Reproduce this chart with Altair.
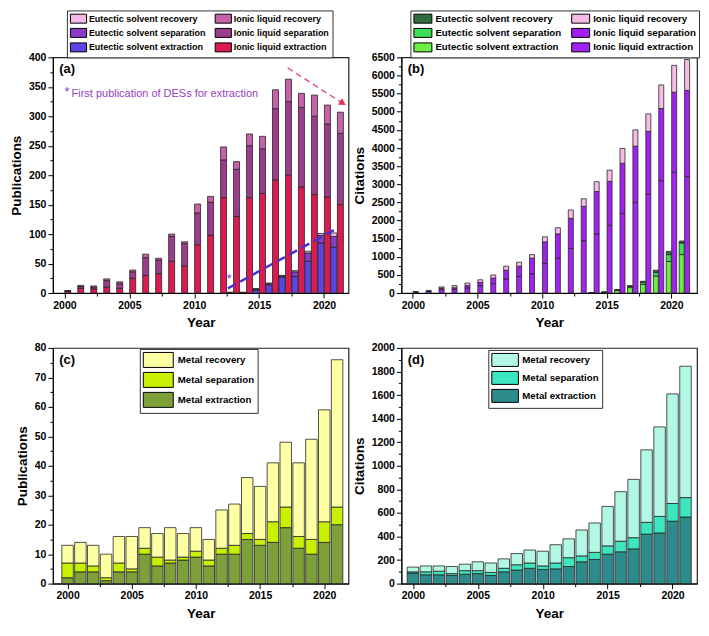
import altair as alt
import pandas as pd

FONT = "Liberation Sans"

years = list(range(2000, 2022))

# ---------------- (a) publications: ionic liquid / eutectic solvent ----------------
a_il_ext = [3, 8, 7, 10, 8, 25, 30, 33, 54, 46, 82, 98, 162, 130, 162, 169, 192, 200, 180, 167, 163, 150]
a_il_sep = [1, 3, 3, 11, 8, 11, 30, 23, 42, 38, 54, 56, 64, 80, 88, 76, 121, 125, 135, 133, 124, 121]
a_il_rec = [0, 2, 2, 3, 3, 3, 6, 3, 4, 3, 15, 10, 22, 13, 20, 21, 32, 38, 24, 36, 32, 36]
a_des_years = list(range(2013, 2022))
a_des_ext = [1, 1, 5, 14, 27, 28, 54, 85, 78]
a_des_sep = [0, 0, 2, 2, 2, 8, 14, 13, 18]
a_des_rec = [0, 0, 0, 1, 1, 2, 3, 3, 6]

# ---------------- (b) citations: ionic liquid / eutectic solvent ----------------
b_il_ext = [20, 40, 95, 100, 140, 200, 260, 385, 455, 530, 815, 960, 1230, 1445, 1630, 1870, 2190, 2500, 2720, 3100, 3330, 3210]
b_il_sep = [10, 15, 40, 45, 65, 90, 150, 245, 285, 430, 595, 670, 830, 945, 1170, 1210, 1390, 1550, 1740, 1990, 2210, 2380]
b_il_rec = [10, 17, 33, 60, 70, 75, 88, 110, 110, 100, 140, 170, 230, 210, 270, 310, 410, 450, 480, 650, 740, 850]
b_des_years = list(range(2014, 2022))
b_des_ext = [5, 20, 70, 150, 240, 470, 870, 1060]
b_des_sep = [3, 5, 15, 35, 55, 100, 190, 320]
b_des_rec = [2, 5, 10, 20, 30, 60, 90, 55]

# ---------------- (c) metal publications ----------------
c_ext = [2, 4, 4, 1, 4, 4, 10, 6, 7, 8, 9, 6, 10, 10, 15, 13, 14, 19, 12, 10, 14, 20]
c_sep = [5, 3, 2, 1, 3, 1, 2, 3, 1, 1, 2, 2, 2, 3, 2, 2, 7, 7, 4, 5, 7, 6]
c_rec = [6, 7, 7, 8, 9, 11, 7, 8, 11, 8, 8, 7, 13, 14, 19, 18, 20, 22, 25, 34, 38, 50]

# ---------------- (d) metal citations ----------------
d_ext = [90, 75, 75, 70, 80, 85, 70, 100, 115, 130, 120, 125, 145, 185, 205, 250, 270, 295, 420, 430, 530, 565]
d_sep = [10, 25, 30, 15, 30, 25, 25, 30, 45, 45, 30, 50, 75, 50, 60, 70, 90, 95, 100, 140, 150, 165]
d_rec = [40, 50, 45, 60, 55, 75, 80, 80, 95, 110, 125, 155, 160, 220, 250, 335, 420, 495, 615, 760, 930, 1115]

# series names
ES_REC, ES_SEP, ES_EXT = "Eutectic solvent recovery", "Eutectic solvent separation", "Eutectic solvent extraction"
IL_REC, IL_SEP, IL_EXT = "Ionic liquid recovery", "Ionic liquid separation", "Ionic liquid extraction"
M_REC, M_SEP, M_EXT = "Metal recovery", "Metal separation", "Metal extraction"

# annotations
a_tag_x = [1999.6]; a_tag_y = [380]
a_star_x = [2000.0]; a_star_y = [342]
a_note_x = [2000.55]; a_note_y = [337]; a_note = ["First publication of DESs for extraction"]
a_star2_x = [2012.7]; a_star2_y = [24]
a_trend_x = [2012.6, 2021.1]; a_trend_y = [8, 111]
a_arrow_x = [2017.2, 2021.45]; a_arrow_y = [382, 322]
b_tag_x = [1999.6]; b_tag_y = [6180]
c_tag_x = [1999.35]; c_tag_y = [76]
d_tag_x = [1999.6]; d_tag_y = [1895]

W, H = 296, 236


def build_df(specs):
    rows = []
    for name, grp, order, yrs, vals in specs:
        for yr, v in zip(yrs, vals):
            rows.append({"year": yr, "series": name, "grp": grp, "order": order, "value": v})
    return pd.DataFrame(rows)


def x_axis():
    return alt.Axis(
        values=[2000 + 2.5 * i for i in range(9)],
        labelExpr="datum.value % 5 == 0 ? format(datum.value, 'd') : ''",
        tickSize={"condition": {"test": "datum.value % 5 != 0", "value": 3}, "value": 5},
        title="Year", labelOverlap=False, labelFlush=False, labelPadding=2, titlePadding=5,
    )


def y_axis(maxv, minor, major, title):
    n = int(round(maxv / minor))
    return alt.Axis(
        values=[minor * i for i in range(n + 1)],
        labelExpr=f"datum.value % {major} == 0 ? format(datum.value, 'd') : ''",
        tickSize={"condition": {"test": f"datum.value % {major} != 0", "value": 3}, "value": 5},
        title=title, labelOverlap=False, labelFlush=False, labelPadding=2, titlePadding=5,
    )


def legend(x, y, path, size, label_offset, font_size, row_pad, col_pad=10, pad=4, cols=None):
    kw = dict(orient="none", legendX=x, legendY=y, title=None, symbolType=path, symbolSize=size,
              symbolStrokeColor="black", symbolStrokeWidth=1, labelFont=FONT, labelFontWeight="bold",
              labelFontSize=font_size, labelColor="black", labelOffset=label_offset, rowPadding=row_pad,
              columnPadding=col_pad, padding=pad, strokeColor="#333", fillColor="white", labelLimit=300)
    if cols:
        kw["columns"] = cols
    return alt.Legend(**kw)


class Panel:
    def __init__(self, xdom, ymax, yminor, ymajor, ytitle):
        self.xs = alt.Scale(domain=xdom, nice=False, zero=False)
        self.ys = alt.Scale(domain=[0, ymax], nice=False, zero=True)
        self.xa = x_axis()
        self.ya = y_axis(ymax, yminor, ymajor, ytitle)

    def X(self):
        return alt.X("xpos:Q", scale=self.xs, axis=self.xa)

    def Y(self, stack=None):
        if stack:
            return alt.Y("value:Q", scale=self.ys, axis=self.ya, stack=stack)
        return alt.Y("value:Q", scale=self.ys, axis=self.ya)

    def text(self, xs, ys, texts, **mk):
        df = pd.DataFrame({"xpos": xs, "value": ys, "text": texts})
        return alt.Chart(df).mark_text(**mk).encode(x=self.X(), y=self.Y(), text="text:N")

    def line(self, xs, ys, **mk):
        df = pd.DataFrame({"xpos": xs, "value": ys})
        return alt.Chart(df).mark_line(**mk).encode(x=self.X(), y=self.Y())

    def point(self, xs, ys, **mk):
        df = pd.DataFrame({"xpos": xs, "value": ys})
        return alt.Chart(df).mark_point(**mk).encode(x=self.X(), y=self.Y())

    def bars(self, df, domain, colors, offset_expr, bar_size, leg):
        return alt.Chart(df).transform_calculate(xpos=offset_expr).mark_bar(
            size=bar_size, stroke="#262626", strokeWidth=0.8).encode(
            x=self.X(), y=self.Y(stack="zero"),
            fill=alt.Fill("series:N", scale=alt.Scale(domain=domain, range=colors), legend=leg),
            order=alt.Order("order:Q", sort="ascending"),
        )


TAG = dict(align="left", baseline="middle", font=FONT, fontWeight="bold", fontSize=13, color="black")

# ----- panel a -----
df_a = build_df([
    (IL_EXT, "I", 1, years, a_il_ext), (IL_SEP, "I", 2, years, a_il_sep), (IL_REC, "I", 3, years, a_il_rec),
    (ES_EXT, "E", 1, a_des_years, a_des_ext), (ES_SEP, "E", 2, a_des_years, a_des_sep),
    (ES_REC, "E", 3, a_des_years, a_des_rec),
])
dom_a = [ES_REC, ES_SEP, ES_EXT, IL_REC, IL_SEP, IL_EXT]
col_a = ["#F4B9EA", "#8A3CC9", "#5B45E6", "#C862A8", "#9C3C8C", "#DC1A50"]
P = Panel([1999.5, 2021.5], 400, 25, 50, "Publications")
leg_a = legend(14, -47, "M-1,-1H2.6V1H-1Z", 81, 9, 9, 0.5, col_pad=6, pad=3, cols=2)
pa = alt.layer(
    P.bars(df_a, dom_a, col_a, "datum.year + (datum.grp == 'E' ? -0.25 : 0.26)", 6, leg_a),
    P.line(a_trend_x, a_trend_y, color="#4B2FD0", strokeWidth=2.5, strokeDash=[9, 5]),
    P.line(a_arrow_x, a_arrow_y, color="#E0559A", strokeWidth=1.5, strokeDash=[6, 4]),
    P.point(a_arrow_x[-1:], a_arrow_y[-1:], shape="triangle-right", angle=32, filled=True, size=60,
            color="#E8324F", opacity=1),
    P.text(a_tag_x, a_tag_y, ["(a)"], **TAG),
    P.text(a_star_x, a_star_y, ["*"], align="left", baseline="middle", font=FONT, fontSize=13, color="#7040E0"),
    P.text(a_note_x, a_note_y, a_note, align="left", baseline="middle", font=FONT, fontSize=11, color="#9440C4"),
    P.text(a_star2_x, a_star2_y, ["*"], align="center", baseline="middle", font=FONT, fontSize=13, color="#7040E0"),
).properties(width=W, height=H)

# ----- panel b -----
df_b = build_df([
    (IL_EXT, "I", 1, years, b_il_ext), (IL_SEP, "I", 2, years, b_il_sep), (IL_REC, "I", 3, years, b_il_rec),
    (ES_EXT, "E", 1, b_des_years, b_des_ext), (ES_SEP, "E", 2, b_des_years, b_des_sep),
    (ES_REC, "E", 3, b_des_years, b_des_rec),
])
dom_b = [ES_REC, ES_SEP, ES_EXT, IL_REC, IL_SEP, IL_EXT]
col_b = ["#2F6E42", "#3DDD55", "#6AEE44", "#F6BCE8", "#A020F0", "#A224F0"]
Pb = Panel([1999.5, 2021.6], 6500, 250, 500, "Citations")
leg_b = legend(9, -47, "M-1,-1H3V1H-1Z", 81, 12, 9.7, 0.5, col_pad=8, pad=3, cols=2)
pb = alt.layer(
    Pb.bars(df_b, dom_b, col_b, "datum.year + (datum.grp == 'E' ? -0.2 : 0.22)", 5, leg_b),
    Pb.text(b_tag_x, b_tag_y, ["(b)"], **TAG),
).properties(width=W, height=H)

# ----- panel c -----
df_c = build_df([(M_EXT, "M", 1, years, c_ext), (M_SEP, "M", 2, years, c_sep), (M_REC, "M", 3, years, c_rec)])
dom_c = [M_REC, M_SEP, M_EXT]
col_c = ["#FFFFA3", "#C8F000", "#7DA03A"]
Pc = Panel([1999.25, 2021.5], 80, 5, 10, "Publications")
leg_c = legend(87, 1, "M-1,-1H3V1H-1Z", 225, 19, 9.7, 0, pad=3)
pc = alt.layer(
    Pc.bars(df_c, dom_c, col_c, "datum.year", 11.5, leg_c),
    Pc.text(c_tag_x, c_tag_y, ["(c)"], **TAG),
).properties(width=W, height=H)

# ----- panel d -----
df_d = build_df([(M_EXT, "M", 1, years, d_ext), (M_SEP, "M", 2, years, d_sep), (M_REC, "M", 3, years, d_rec)])
dom_d = [M_REC, M_SEP, M_EXT]
col_d = ["#B2F8E4", "#3CE6BE", "#2E8B8B"]
Pd = Panel([1999.5, 2021.5], 2000, 100, 200, "Citations")
leg_d = legend(87, 2, "M-1,-1H3.1V1H-1Z", 169, 17, 9.7, 0, pad=3)
pd_ = alt.layer(
    Pd.bars(df_d, dom_d, col_d, "datum.year", 11.5, leg_d),
    Pd.text(d_tag_x, d_tag_y, ["(d)"], **TAG),
).properties(width=W, height=H)

chart = alt.concat(pa, pb, pc, pd_, columns=2, spacing={"row": 55, "column": 53}, align="each",
                   bounds="flush").resolve_scale(
    fill="independent", x="independent", y="independent").resolve_legend(fill="independent").configure_axis(
    labelFont=FONT, labelFontWeight="bold", labelFontSize=10.5, labelColor="black",
    titleFont=FONT, titleFontWeight="bold", titleFontSize=13.5, titleColor="black",
    tickColor="black", domainColor="black", grid=False, tickWidth=1, domainWidth=1,
).configure_view(stroke="#222", strokeWidth=1.2).properties(background="white", padding=0)

chart.save("out.html", embed_options={"renderer": "svg", "actions": False})
